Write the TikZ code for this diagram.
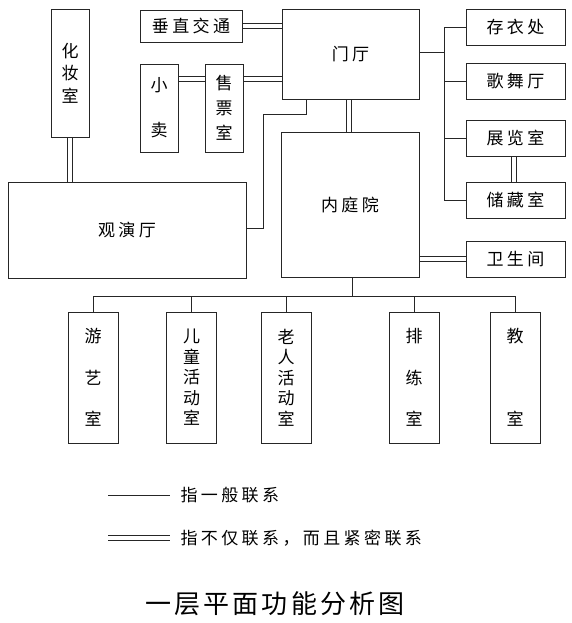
\documentclass[tikz,border=0pt]{standalone}
\usepackage{fontspec}
\setmainfont{Noto Sans CJK SC}
\usepackage{tikz}
\usetikzlibrary{positioning}

\newcommand{\boxfont}{\fontsize{17}{20}\selectfont\addfontfeature{LetterSpace=20}}
\tikzset{
  box/.style={draw=black!85, line width=0.8pt, inner sep=0pt, font=\boxfont},
  vbox/.style={box, align=center, font=\fontsize{17}{#1}\selectfont},
  link/.style={draw=black!85, line width=0.7pt},
  htight/.style={draw=none, preaction={link, transform canvas={yshift=2.2pt}},
    postaction={link, transform canvas={yshift=-2.2pt}}},
  vtight/.style={draw=none, preaction={link, transform canvas={xshift=2.2pt}},
    postaction={link, transform canvas={xshift=-2.2pt}}},
}

\begin{document}
\begin{tikzpicture}[x=1pt,y=-1pt]
\useasboundingbox (0,0) rectangle (572,623);

% upper left group
\node[vbox=22.5, minimum width=38, minimum height=128] (makeup) at (70,73) {化\\妆\\室};
\node[box, minimum width=102, minimum height=32] (vert) at (191,26) {垂直交通};
\node[vbox=45, minimum width=38, minimum height=88] (kiosk) at (159,108) {小\\卖};
\node[vbox=25, minimum width=38, minimum height=88] (ticket) at (224,108) {售\\票\\室};
\node[box, minimum width=238, minimum height=96] (hall) at (127,230) {观演厅\hspace{20pt}};

% centre
\node[box, minimum width=137, minimum height=90] (lobby) at (350.5,54) {门厅};
\node[box, minimum width=138, minimum height=145] (court) at (350,204.5) {内庭院};

% right column
\foreach \n/\t/\y in {cloak/存衣处/27.5, dance/歌舞厅/81, expo/展览室/138, store/储藏室/200, wc/卫生间/259}
  \node[box, minimum width=99, minimum height=36] (\n) at (515.5,\y) {\t};

% bottom row
\foreach \n/\t/\x/\s in {game/游\\艺\\室/93/41.5, kids/儿\\童\\活\\动\\室/191.5/20.5,
    elder/老\\人\\活\\动\\室/286/20.5, rehearse/排\\练\\室/414/41.5, class/教\\室/515/83}
  \node[vbox=\s, minimum width=50, minimum height=131] (\n) at (\x,377.5) {\t};

% close links
\draw[vtight] (makeup.south) -- (makeup.south |- hall.north);
\draw[htight] (vert.east) -- (vert.east -| lobby.west);
\draw[htight] ([yshift=29pt]kiosk.east) -- ([yshift=29pt]ticket.west);
\draw[htight] ([yshift=29pt]ticket.east) -- ([yshift=29pt]ticket.east -| lobby.west);
\draw[vtight] ([xshift=-1.5pt]lobby.south) -- ([xshift=-1.5pt]lobby.south |- court.north);
\draw[vtight] ([xshift=-1.5pt]expo.south) -- ([xshift=-1.5pt]store.north);
\draw[htight] (wc.west -| court.east) -- (wc.west);

% plain links
\coordinate (bend) at (263,114);
\draw[link] ([yshift=2pt]hall.east) -| (bend) -| ([xshift=-44.5pt]lobby.south);
\coordinate (spine) at (444,0);
\draw[link] ([yshift=2pt]lobby.east) -- ([yshift=2pt]lobby.east -| spine);
\draw[link] (cloak.west -| spine) -- (store.west -| spine);
\foreach \n in {cloak,dance,expo,store}
  \draw[link] (\n.west -| spine) -- (\n.west);
\coordinate (bus) at (0,296);
\draw[link] ([xshift=2pt]court.south) -- ([xshift=2pt]court.south |- bus);
\draw[link] (game.north |- bus) -- (class.north |- bus);
\foreach \n in {game,kids,elder,rehearse,class}
  \draw[link] (\n.north |- bus) -- (\n.north);

% key
\coordinate (keyA) at (108,495);
\coordinate (keyB) at (170,495);
\draw[link] (keyA) -- (keyB);
\node[anchor=west, font=\boxfont] (keyAt) at (177,495) {指一般联系};
\coordinate (keyC) at (108,538);
\coordinate (keyD) at (170,538);
\draw[htight] (keyC) -- (keyD);
\node[anchor=west, font=\boxfont] (keyCt) at (177,538) {指不仅联系，而且紧密联系};

\node[font=\fontsize{26}{30}\selectfont\addfontfeature{LetterSpace=12}] (title) at (275,604) {一层平面功能分析图};
\end{tikzpicture}
\end{document}
